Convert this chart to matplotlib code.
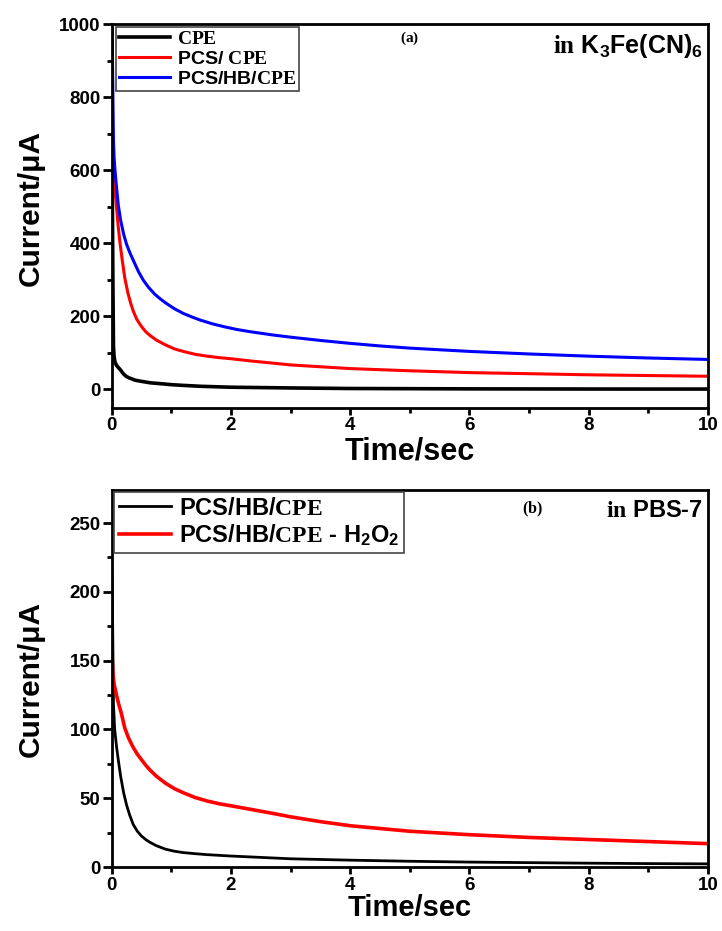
import matplotlib
matplotlib.use("Agg")
import matplotlib.pyplot as plt

plt.rcParams['font.family'] = ['Liberation Sans', 'DejaVu Sans']
plt.rcParams['font.weight'] = 'bold'
plt.rcParams['mathtext.fontset'] = 'custom'
plt.rcParams['mathtext.rm'] = 'Liberation Sans:bold'
plt.rcParams['mathtext.sf'] = 'Liberation Sans:bold'
plt.rcParams['mathtext.bf'] = 'Liberation Serif:bold'
plt.rcParams['mathtext.it'] = 'Liberation Sans:bold:italic'

# ---------------- Panel (a) data: in K3Fe(CN)6 ----------------
t_cpe_a = [0, 0.005, 0.01, 0.02, 0.03, 0.04, 0.055, 0.08, 0.11, 0.14, 0.2, 0.25, 0.3, 0.4, 0.5,
           0.65, 0.8, 1.0, 1.2, 1.5, 2.0, 2.5, 3, 4, 5, 6, 7, 8, 9, 10]
i_cpe_a = [950, 750, 550, 300, 117, 90, 75, 66, 60, 55, 42, 35, 31, 25, 22,
           18, 16, 13, 11, 8.5, 6, 5, 4, 2.5, 2, 1.5, 1.3, 1.1, 1.0, 1.0]

t_pcs_a = [0, 0.01, 0.02, 0.03, 0.05, 0.08, 0.11, 0.14, 0.18, 0.22, 0.27, 0.32, 0.36, 0.42, 0.5,
           0.57, 0.64, 0.75, 0.9, 1.05, 1.2, 1.4, 1.6, 1.8, 2.0, 2.32, 2.7, 3, 3.5, 4, 4.5, 5,
           6, 7, 8, 9, 10]
i_pcs_a = [690, 660, 630, 605, 555, 500, 445, 400, 350, 305, 265, 235, 215, 192, 172,
           158, 148, 135, 122, 111, 104, 96, 91, 87, 84, 78, 72, 67, 62, 57, 54, 51,
           46, 43, 40, 38, 36]

t_hb_a = [0, 0.01, 0.02, 0.03, 0.04, 0.055, 0.08, 0.11, 0.15, 0.2, 0.25, 0.31, 0.38, 0.45, 0.53,
          0.62, 0.72, 0.82, 0.92, 1.05, 1.2, 1.35, 1.48, 1.7, 1.9, 2.1, 2.32, 2.7, 3, 3.5, 4,
          4.5, 5, 6, 7, 8, 9, 10]
i_hb_a = [1100, 950, 800, 680, 635, 600, 555, 505, 463, 425, 397, 372, 347, 322, 299,
          279, 261, 247, 235, 221, 208, 198, 190, 179, 171, 164, 158, 149, 143, 134, 126,
          119, 113, 104, 97, 91, 86, 82]

# ---------------- Panel (b) data: in PBS-7 ----------------
t_hb_b = [0, 0.01, 0.02, 0.03, 0.05, 0.08, 0.11, 0.15, 0.2, 0.25, 0.3, 0.36, 0.43, 0.5, 0.57,
          0.64, 0.75, 0.9, 1.05, 1.2, 1.4, 1.6, 2.0, 2.5, 3, 4, 5, 6, 7, 8, 9, 10]
i_hb_b = [222, 200, 160, 118, 100, 88, 78, 66, 54, 45, 38, 31, 26, 22.5, 20,
          18, 15.5, 13, 11.5, 10.5, 9.7, 9.0, 8, 7, 6, 5, 4.2, 3.6, 3.2, 2.8, 2.5, 2.3]

t_h2o2_b = [0, 0.01, 0.02, 0.04, 0.08, 0.12, 0.16, 0.22, 0.28, 0.36, 0.43, 0.5, 0.57, 0.64, 0.75,
            0.9, 1.05, 1.2, 1.4, 1.6, 1.8, 2.0, 2.32, 2.7, 3, 3.5, 4, 4.5, 5, 6, 7, 8, 9, 10]
i_h2o2_b = [162, 150, 141, 133, 125, 118, 112, 101, 94, 87, 82, 78, 74, 70.6, 66,
            61, 57, 54, 50.5, 48, 46, 44.5, 42, 39, 36.5, 33, 30, 28, 26, 23.5, 21.5, 20, 18.5, 17]

labels_a = [r"$\mathbf{CPE}$", r"PCS/ $\mathbf{CPE}$", r"PCS/HB/$\mathbf{CPE}$"]
labels_b = [r"PCS/HB/$\mathbf{CPE}$", r"PCS/HB/$\mathbf{CPE}$ - $\mathsf{H_2O_2}$"]
xticks = [0, 2, 4, 6, 8, 10]
yticks_a = [0, 200, 400, 600, 800, 1000]
yticks_b = [0, 50, 100, 150, 200, 250]

fig = plt.figure(figsize=(7.22, 9.31), dpi=100)
ax1 = fig.add_axes([0.1547, 0.5621, 0.8259, 0.4121])
ax2 = fig.add_axes([0.1547, 0.0687, 0.8259, 0.4050])


def style(ax):
    for s in ax.spines.values():
        s.set_linewidth(2.0)
    ax.tick_params(axis='both', which='both', direction='out', width=2.0,
                   top=False, right=False, labelsize=13.5)
    ax.tick_params(axis='y', which='major', length=6.5, pad=1.5)
    ax.tick_params(axis='y', which='minor', length=3.5)
    ax.tick_params(axis='x', which='major', length=5, pad=2.0)
    ax.tick_params(axis='x', which='minor', length=3.5)
    ax.set_xlim(0, 10)
    ax.set_xticks(xticks)
    ax.set_xticks([1, 3, 5, 7, 9], minor=True)
    for lab in ax.get_xticklabels() + ax.get_yticklabels():
        lab.set_fontweight('bold')


# Panel (a)
ax1.plot(t_cpe_a, i_cpe_a, color='black', lw=2.6, label=labels_a[0])
ax1.plot(t_pcs_a, i_pcs_a, color='#ff0000', lw=2.2, label=labels_a[1])
ax1.plot(t_hb_a, i_hb_a, color='#0000ff', lw=2.2, label=labels_a[2])
style(ax1)
ax1.set_ylim(-50, 1000)
ax1.set_yticks(yticks_a)
ax1.set_yticks([100, 300, 500, 700, 900], minor=True)
ax1.set_ylabel("Current/μA", fontsize=21.5, fontweight='bold')
ax1.yaxis.set_label_coords(-0.112, 0.52)
ax1.set_xlabel("Time/sec", fontsize=22, fontweight='bold')
ax1.xaxis.set_label_coords(0.5, -0.075)
leg1 = ax1.legend(loc='upper left', bbox_to_anchor=(0.007, 0.993), borderaxespad=0,
                  fontsize=14, handlelength=2.6, labelspacing=0.12, handletextpad=0.35,
                  borderpad=0.18, fancybox=False, framealpha=1, edgecolor='#444444')
leg1.get_frame().set_linewidth(1.2)
ax1.text(0.5, 0.985, r"$\mathbf{(a)}$", transform=ax1.transAxes, fontsize=11,
         ha='center', va='top')
ax1.text(0.992, 0.978, r"$\mathbf{in}$ $\mathsf{K_3Fe(CN)_6}$", transform=ax1.transAxes,
         fontsize=18, ha='right', va='top')

# Panel (b)
ax2.plot(t_hb_b, i_hb_b, color='black', lw=2.0, label=labels_b[0])
ax2.plot(t_h2o2_b, i_h2o2_b, color='#ff0000', lw=2.6, label=labels_b[1])
style(ax2)
ax2.set_ylim(0, 274)
ax2.set_yticks(yticks_b)
ax2.set_yticks([25, 75, 125, 175, 225], minor=True)
ax2.set_ylabel("Current/μA", fontsize=21.5, fontweight='bold')
ax2.yaxis.set_label_coords(-0.112, 0.5)
ax2.set_xlabel("Time/sec", fontsize=21, fontweight='bold')
ax2.xaxis.set_label_coords(0.5, -0.072)
leg2 = ax2.legend(loc='upper left', bbox_to_anchor=(0.004, 0.995), borderaxespad=0,
                  fontsize=17, handlelength=2.2, labelspacing=0.1, handletextpad=0.35,
                  borderpad=0.2, fancybox=False, framealpha=1, edgecolor='#444444')
leg2.get_frame().set_linewidth(1.2)
ax2.text(0.705, 0.975, r"$\mathbf{(b)}$", transform=ax2.transAxes, fontsize=11.5,
         ha='center', va='top')
ax2.text(0.992, 0.975, r"$\mathbf{in}$ $\mathsf{PBS}$-$\mathsf{7}$", transform=ax2.transAxes,
         fontsize=17, ha='right', va='top')

fig.savefig("out.png", dpi=100)
